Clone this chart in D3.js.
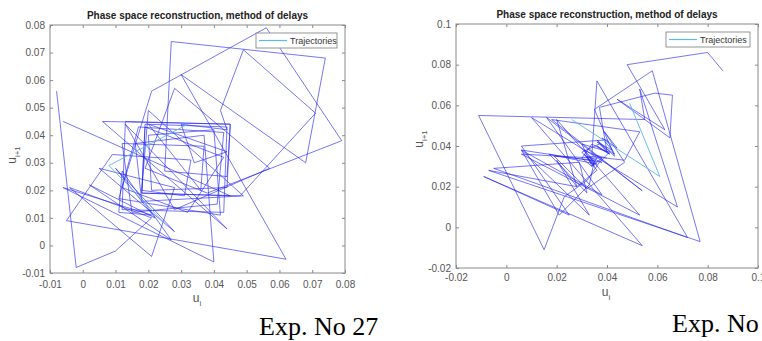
<!DOCTYPE html>
<html>
<head>
<meta charset="utf-8">
<script src="https://cdn.jsdelivr.net/npm/d3@7"></script>
<style>
  body { margin: 0; background: #fff; }
  svg { display: block; }
</style>
</head>
<body>
<svg id="chart" width="762" height="341"></svg>
<script>
const title = 'Phase space reconstruction, method of delays'
const legendLabel = 'Trajectories'
const captions = ['Exp. No 27', 'Exp. No']

// Exp. No 27 : delayed series, plotted as (u_i, u_i+1)
const series27 = [
  -0.006, 0.045, 0.018, 0.019, 0.044, 0.043, 0.012, 0.013, 0.045, 0.044,
  0.021, 0.020, 0.040, 0.042, 0.011, 0.017, 0.043, 0.041, 0.015, 0.012,
  0.037, 0.036, 0.020, 0.044, 0.034, 0.030, 0.044, 0.042, 0.049, 0.071,
  0.048, 0.018, 0.019, 0.043, 0.032, 0.012, 0.021, 0.056, 0.079, 0.038,
  0.019, 0.028, 0.057, 0.028, 0.013, 0.044, 0.006, 0.045, 0.044, 0.025,
  0.027, 0.074, 0.068, 0.030, 0.062, -0.005, 0.009, 0.033, 0.031, 0.018,
  0.020, 0.049, 0.018, 0.016, 0.037, 0.040, -0.006, 0.021, 0.011, 0.012,
  0.027, 0.002, 0.022, 0.010, 0.028, 0.005, 0.028, 0.021, -0.004, 0.021,
  0.010, -0.002, -0.008, 0.056
]
const cyan27 = [[0.032, 0.044], [0.008, 0.029], [0.025, 0.008]]
const ticks27 = [-0.01, 0, 0.01, 0.02, 0.03, 0.04, 0.05, 0.06, 0.07, 0.08]

// second experiment
const seriesB = [
  0.040, 0.034, 0.036, 0.072, -0.005, 0.029, 0.032, 0.017, 0.036, 0.031,
  0.038, 0.034, 0.030, 0.041, 0.037, 0.032, 0.023, 0.015, -0.011, 0.055,
  0.053, 0.068, 0.010, 0.054, -0.009, 0.025, 0.006, 0.040, 0.043, 0.036,
  0.042, 0.038, 0.044, 0.039, 0.047, 0.032, 0.019, 0.035, 0.033, 0.021,
  0.006, 0.038, 0.016, 0.054, 0.018, 0.053, 0.047, 0.033, 0.035, 0.031,
  0.036, 0.028, 0.020, 0.053, 0.006, 0.036, 0.034, 0.030, 0.034, 0.041,
  0.036, 0.043, 0.035, 0.058, 0.077, -0.007, 0.028, 0.020, 0.033, 0.006,
  0.038, 0.032, 0.035, 0.030, 0.037, 0.041, 0.036, 0.040, 0.037, 0.059,
  0.066, 0.065, 0.044, 0.063, 0.048, 0.080, 0.086, 0.077
]
const cyanB = [[0.026, 0.053], [0.061, 0.025], [0.049, 0.061]]
const ticksB = [-0.02, 0, 0.02, 0.04, 0.06, 0.08, 0.1]

const svg = d3.select('#chart')
const fmt = d => (d === 0 ? '0' : d3.format('~g')(d).replace('\u2212', '-'))

function drawPanel(p) {
  const x = d3.scaleLinear().domain(d3.extent(p.ticks)).range([p.left, p.right])
  const y = d3.scaleLinear().domain(d3.extent(p.ticks)).range([p.bottom, p.top])
  const g = svg.append('g')
  const line = d3.line().x(d => x(d[0])).y(d => y(d[1]))

  // trajectory (u_i, u_i+1)
  g.append('path')
    .datum(d3.pairs(p.series))
    .attr('d', line)
    .attr('fill', 'none')
    .attr('stroke', '#2020f0')
    .attr('stroke-opacity', 0.68)
    .attr('stroke-width', 0.9)

  g.append('path')
    .datum(p.cyan)
    .attr('d', line)
    .attr('fill', 'none')
    .attr('stroke', '#5cb8e4')
    .attr('stroke-width', 0.9)

  // box + inward ticks on all four sides
  const axes = [
    [d3.axisBottom(x), `translate(0,${p.bottom})`, true],
    [d3.axisTop(x), `translate(0,${p.top})`, false],
    [d3.axisLeft(y), `translate(${p.left},0)`, true],
    [d3.axisRight(y), `translate(${p.right},0)`, false],
  ]
  axes.forEach(([axis, tr, labels], i) => {
    const a = g.append('g')
      .attr('transform', tr)
      .call(axis.tickValues(p.ticks).tickSize(-3).tickPadding(i === 0 ? p.xPad : 5)
        .tickFormat(labels ? fmt : ''))
    a.select('.domain').remove()
    a.selectAll('line').attr('stroke', '#8a8a8a')
    a.selectAll('text')
      .attr('fill', '#555')
      .style('font-family', 'Liberation Sans, Arial, sans-serif')
      .style('font-size', '10px')
  })

  g.append('rect')
    .attr('x', p.left).attr('y', p.top)
    .attr('width', p.right - p.left).attr('height', p.bottom - p.top)
    .attr('fill', 'none').attr('stroke', '#8a8a8a').attr('stroke-width', 1)

  // title
  g.append('text')
    .attr('x', (p.left + p.right) / 2).attr('y', p.top - 6)
    .attr('text-anchor', 'middle')
    .style('font-family', 'Liberation Sans, Arial, sans-serif')
    .style('font-size', '10px').style('font-weight', 'bold')
    .attr('fill', '#222')
    .text(title)

  // axis labels
  const xl = g.append('text')
    .attr('x', p.xLabel[0]).attr('y', p.xLabel[1])
    .attr('text-anchor', 'middle').attr('fill', '#555')
    .style('font-family', 'Liberation Sans, Arial, sans-serif').style('font-size', '12px')
  xl.append('tspan').text('u')
  xl.append('tspan').attr('dy', 4).style('font-size', '8px').text('i')

  const yl = g.append('text')
    .attr('transform', `translate(${p.yLabel[0]},${p.yLabel[1]}) rotate(-90)`)
    .attr('text-anchor', 'middle').attr('fill', '#555')
    .style('font-family', 'Liberation Sans, Arial, sans-serif').style('font-size', '12px')
  yl.append('tspan').text('u')
  yl.append('tspan').attr('dy', 4).style('font-size', '8px').text('i+1')

  // legend
  const lg = g.append('g').attr('transform', `translate(${p.legend[0]},${p.legend[1]})`)
  lg.append('rect').attr('width', p.legend[2]).attr('height', 15)
    .attr('fill', '#fff').attr('stroke', '#7a7a7a').attr('stroke-width', 0.8)
  lg.append('line').attr('x1', 3).attr('x2', 31).attr('y1', 7.5).attr('y2', 7.5)
    .attr('stroke', '#5cb8e4').attr('stroke-width', 1.2)
  lg.append('text').attr('x', 34).attr('y', 11)
    .style('font-family', 'Liberation Sans, Arial, sans-serif').style('font-size', '9px')
    .attr('fill', '#333').text(legendLabel)

  // caption under the figure
  svg.append('text')
    .attr('x', p.caption[0]).attr('y', p.caption[1])
    .style('font-family', 'Liberation Serif, Times New Roman, serif')
    .style('font-size', '26px').attr('fill', '#000')
    .text(p.captionText)
}

drawPanel({
  series: series27, cyan: cyan27, ticks: ticks27,
  left: 50, right: 345, top: 25, bottom: 273, xPad: 8,
  xLabel: [197, 302], yLabel: [16, 155], legend: [256, 33, 81],
  caption: [259, 335], captionText: captions[0]
})

drawPanel({
  series: seriesB, cyan: cyanB, ticks: ticksB,
  left: 456, right: 758, top: 24, bottom: 268, xPad: 6,
  xLabel: [606, 296], yLabel: [423, 139], legend: [666, 32, 84],
  caption: [672, 332], captionText: captions[1]
})
</script>
</body>
</html>
